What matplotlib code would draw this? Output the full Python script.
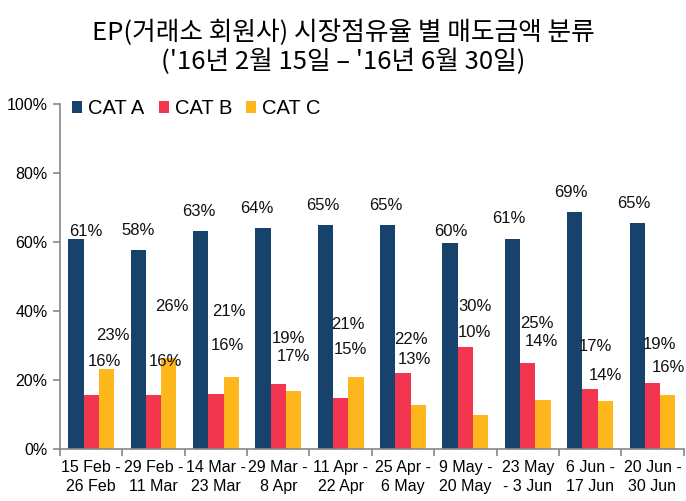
import numpy as np
import matplotlib
matplotlib.use("Agg")
import matplotlib.pyplot as plt

plt.rcParams['font.family'] = ['Liberation Sans', 'Noto Sans CJK KR', 'DejaVu Sans']

title = "EP(거래소 회원사) 시장점유율 별 매도금액 분류\n('16년 2월 15일 – '16년 6월 30일)"
periods = ["15 Feb -\n26 Feb", "29 Feb -\n11 Mar", "14 Mar -\n23 Mar", "29 Mar -\n8 Apr",
           "11 Apr -\n22 Apr", "25 Apr -\n6 May", "9 May -\n20 May", "23 May\n- 3 Jun",
           "6 Jun -\n17 Jun", "20 Jun -\n30 Jun"]
series = ["CAT A", "CAT B", "CAT C"]
cat_a = [60.9, 57.8, 63.1, 64.0, 65.0, 65.1, 59.8, 61.0, 68.6, 65.4]
cat_b = [15.6, 15.7, 15.9, 18.9, 14.9, 22.0, 29.6, 24.8, 17.4, 19.0]
cat_c = [23.3, 26.4, 20.9, 16.9, 20.9, 12.8, 9.9, 14.2, 14.0, 15.6]
colors = ["#17426b", "#f2364f", "#fdb71c"]

# where the data labels sit (manually dragged in the original)
lab_a_dx = [-0.08, -0.25, -0.27, -0.35, -0.28, -0.28, -0.24, -0.30, -0.30, -0.30]
lab_a_y = [63.0, 63.5, 68.8, 69.8, 70.7, 70.5, 63.0, 66.7, 74.4, 71.2]
lab_b_dx = [0.21, 0.19, 0.19, 0.16, 0.16, 0.12, 0.15, 0.14, 0.09, 0.12]
lab_b_y = [25.3, 25.3, 30.1, 31.9, 28.9, 31.8, 41.2, 36.4, 29.7, 30.3]
lab_c_dx = [0.35, 0.29, 0.21, 0.24, 0.12, 0.19, 0.15, 0.22, 0.25, 0.25]
lab_c_y = [33.0, 41.2, 39.8, 26.8, 36.0, 25.8, 33.7, 31.1, 21.4, 23.7]

fig = plt.figure(figsize=(6.86, 5.01), dpi=100)
ax = fig.add_axes([0.0875, 0.104, 0.909, 0.688])

x = np.arange(len(periods))
w = 0.245
data = [cat_a, cat_b, cat_c]
for k in range(3):
    ax.bar(x + (k - 1) * w, data[k], w, color=colors[k], label=series[k], zorder=2)

labels = [(cat_a, lab_a_dx, lab_a_y), (cat_b, lab_b_dx, lab_b_y), (cat_c, lab_c_dx, lab_c_y)]
for vals, dx, ly in labels:
    for i in range(len(x)):
        ax.text(x[i] + dx[i], ly[i], "%d%%" % round(vals[i]), ha="center", va="center",
                fontsize=12, color="#111111")

ax.set_xlim(-0.5, len(periods) - 0.5)
ax.set_ylim(0, 100)
ax.set_yticks(np.arange(0, 101, 20))
ax.set_yticklabels(["%d%%" % v for v in range(0, 101, 20)], fontsize=11.5)
ax.set_xticks(x)
ax.set_xticklabels(periods, fontsize=11.5, linespacing=1.35)
ax.tick_params(axis="x", which="major", length=0, pad=8)
ax.set_xticks(np.arange(-0.5, len(periods)), minor=True)
ax.tick_params(axis="x", which="minor", length=5, color="#888888", width=1.2)
ax.tick_params(axis="y", length=5, color="#888888", width=1.2, pad=4)
for s in ["top", "right"]:
    ax.spines[s].set_visible(False)
for s in ["left", "bottom"]:
    ax.spines[s].set_color("#888888")
    ax.spines[s].set_linewidth(1.2)

ax.legend(loc="upper left", bbox_to_anchor=(0.0, 1.05), ncol=3, frameon=False, fontsize=14.5,
          handlelength=0.5, handleheight=0.5, handletextpad=0.3, columnspacing=0.7,
          borderaxespad=0.2)

fig.text(0.5, 0.905, title, ha="center", va="center", fontsize=18.5, linespacing=1.15,
         fontweight="medium", family=["Noto Sans CJK KR", "DejaVu Sans"])

fig.savefig("out.png", dpi=100)
